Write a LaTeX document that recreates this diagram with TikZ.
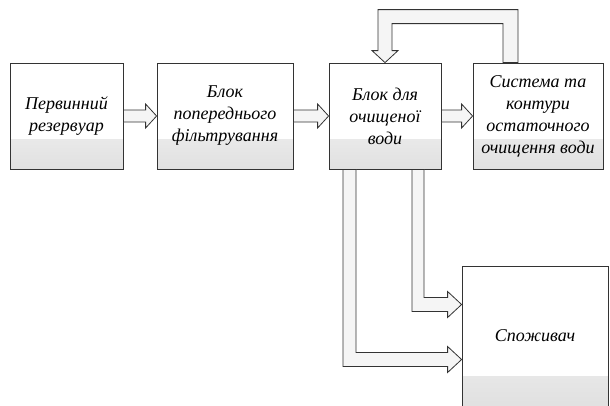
\documentclass[tikz,border=0pt]{standalone}
\usepackage{fontspec}
\setmainfont{Liberation Serif}
\usetikzlibrary{calc}
\newcommand{\harrow}[2]{%
  \draw[flow] ($(#1.east)+(0,-6)$) -- ($(#2.west)+(-11,-6)$) -- ++(0,-6) -- (#2.west)
    -- ($(#2.west)+(-11,12)$) -- ++(0,-6) -- ($(#1.east)+(0,6)$) -- cycle;}
\begin{document}
\begin{tikzpicture}[x=1pt, y=-1pt,
  block/.style={draw=black!80, line width=0.8pt, fill=white, align=center, inner sep=2pt,
    font=\itshape\fontsize{18}{22}\selectfont,
    path picture={\shade[top color=white, bottom color=black!12]
      ([yshift=30pt]path picture bounding box.south west) rectangle (path picture bounding box.south east);}},
  flow/.style={draw=black!80, line width=0.8pt, fill=black!4, line join=miter}]
\useasboundingbox (0,0) rectangle (610,405);
% boxes
\node[block, minimum width=113pt, minimum height=106pt] (tank) at (66.5,116) {Первинний\\резервуар};
\node[block, minimum width=136pt, minimum height=106pt] (filter) at (225,116) {Блок\\попереднього\\фільтрування};
\node[block, minimum width=112pt, minimum height=106pt] (clean) at (385,116) {Блок для\\очищеної\\води};
\node[block, minimum width=130pt, minimum height=106pt] (sys) at (538,116) {Система та\\контури\\остаточного\\очищення води};
\node[block, minimum width=146pt, minimum height=140pt] (cons) at (535,336) {Споживач};
% arrows between the boxes
\harrow{tank}{filter}
\harrow{filter}{clean}
\harrow{clean}{sys}
% return loop
\draw[flow] ($(sys.north)+(-20,0)$) |- ($(clean.north)+(-7,-53)$) -- ($(clean.north)+(-7,-12)$)
  -- ++(-6,0) -- (clean.north) -- ($(clean.north)+(13,-12)$) -- ++(-6,0)
  |- ($(sys.north)+(-35,-39)$) -- ($(sys.north)+(-35,0)$) -- cycle;
% to the consumer
\draw[flow] ($(clean.south)+(27,0)$) |- ($(cons.west)+(-14,-24.5)$) -- ++(0,6) -- ($(cons.west)+(0,-31.5)$)
  -- ($(cons.west)+(-14,-44.5)$) -- ++(0,6) -| ($(clean.south)+(39,0)$) -- cycle;
\draw[flow] ($(clean.south)+(-42,0)$) |- ($(cons.west)+(-14,30.5)$) -- ++(0,6) -- ($(cons.west)+(0,23.5)$)
  -- ($(cons.west)+(-14,10.5)$) -- ++(0,6) -| ($(clean.south)+(-29,0)$) -- cycle;
\end{tikzpicture}
\end{document}
